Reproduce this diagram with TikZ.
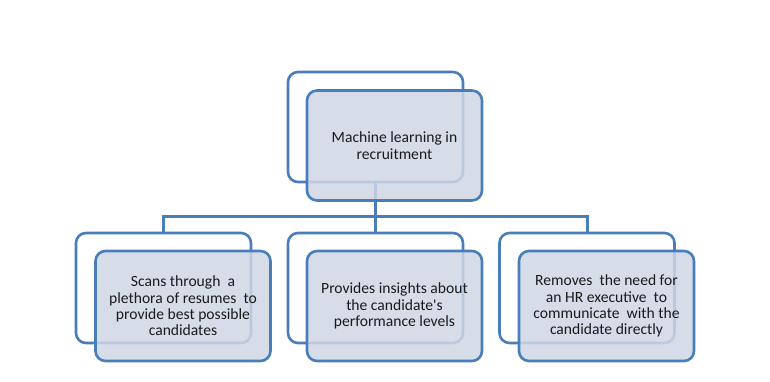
\documentclass[tikz,border=0pt]{standalone}
\usepackage{fontspec}
\setmainfont{Carlito}
\definecolor{edge}{HTML}{4A7EBB}
\definecolor{boxfill}{HTML}{CFD7E5}
\definecolor{txt}{HTML}{1A1A1A}
\begin{document}
\begin{tikzpicture}[x=1pt,y=-1pt,
  backbox/.style={draw=edge,line width=2.6pt,rounded corners=10pt,minimum width=175pt,minimum height=110pt,inner sep=0pt},
  frontbox/.style={draw=edge,line width=2.6pt,rounded corners=10pt,minimum width=175pt,minimum height=110pt,inner sep=0pt,fill=boxfill,fill opacity=0.85,text opacity=1,text=txt,align=center,font=\fontsize{15.6}{16.3}\selectfont},
  link/.style={draw=edge,line width=3pt}]
\useasboundingbox (0,0) rectangle (770,382);
% back boxes
\node[backbox] (tb) at (375.5,127) {};
\node[backbox] (lb) at (163.5,288) {};
\node[backbox] (mb) at (375.5,288) {};
\node[backbox] (rb) at (587,288) {};
% connectors
\coordinate (j) at (375.5,216.5);
\draw[link] (tb.south) -- (j);
\draw[link] (j) -| (lb.north);
\draw[link] (j) -- (mb.north);
\draw[link] (j) -| (rb.north);
% front boxes
\node[frontbox] (tf) at (394.5,145.5) {Machine learning in\\recruitment};
\node[frontbox] (lf) at (183,306) {Scans through\ \ a\\plethora of resumes\ \ to\\provide best possible\\candidates};
\node[frontbox] (mf) at (394.5,306) {Provides insights about\\the candidate\textquotesingle s\\performance levels};
\node[frontbox] (rf) at (606.5,306) {Removes\ \ the need for\\an HR executive\ \ to\\communicate\ \ with the\\candidate directly};
\end{tikzpicture}
\end{document}
